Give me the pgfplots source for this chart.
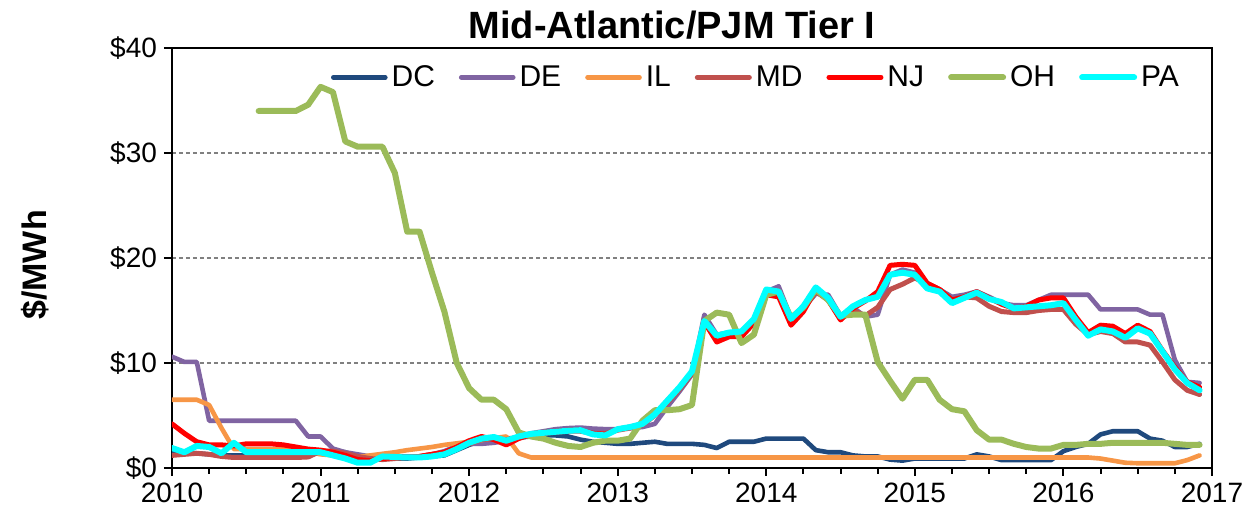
\documentclass[border=0pt]{standalone}
\usepackage{pgfplots}
\pgfplotsset{compat=1.18}
\usepackage{pgfplotstable}
\usepackage{fontspec}
\setmainfont{Liberation Sans}
\definecolor{cDC}{HTML}{1F497D}
\definecolor{cDE}{HTML}{8064A2}
\definecolor{cIL}{HTML}{F79646}
\definecolor{cMD}{HTML}{C0504D}
\definecolor{cNJ}{HTML}{FF0000}
\definecolor{cOH}{HTML}{9BBB59}
\definecolor{cPA}{HTML}{00FFFF}
\pgfplotstableread{
m DC DE IL MD NJ OH PA
0 1.5 10.6 6.5 1.2 4.2 nan 1.9
1 1.5 10.1 6.5 1.3 3.3 nan 1.5
2 1.4 10.1 6.5 1.4 2.5 nan 2.1
3 1.3 4.5 6.0 1.3 2.2 nan 2.0
4 1.2 4.5 3.8 1.1 2.2 nan 1.4
5 1.2 4.5 1.8 1.0 2.1 nan 2.4
6 1.2 4.5 1.8 1.0 2.3 nan 1.5
7 1.2 4.5 1.8 1.0 2.3 34.0 1.5
8 1.2 4.5 1.8 1.0 2.3 34.0 1.5
9 1.2 4.5 1.8 1.0 2.2 34.0 1.5
10 1.3 4.5 1.7 1.0 2.0 34.0 1.5
11 1.4 3.0 1.5 1.05 1.8 34.6 1.5
12 1.5 3.0 1.3 1.6 1.7 36.3 1.5
13 1.6 1.85 1.2 1.6 1.5 35.8 1.2
14 1.5 1.5 1.1 1.4 1.2 31.1 0.9
15 0.9 1.3 1.05 1.1 0.8 30.6 0.5
16 0.8 1.1 1.2 0.9 0.7 30.6 0.5
17 0.9 1.1 1.35 0.8 0.9 30.6 1.1
18 0.9 1.1 1.5 0.9 1.0 28.1 1.05
19 0.9 1.1 1.7 1.0 1.0 22.5 1.0
20 1.0 1.1 1.85 1.1 1.1 22.5 1.0
21 1.1 1.3 2.0 1.3 1.3 18.6 1.1
22 1.2 1.6 2.2 1.5 1.5 14.9 1.3
23 1.7 2.1 2.35 1.9 2.0 10.0 1.8
24 2.2 2.3 2.5 2.3 2.6 7.6 2.4
25 2.6 2.3 2.65 2.7 3.0 6.5 2.8
26 2.7 2.4 2.85 2.8 2.7 6.5 2.95
27 2.8 2.6 3.0 2.7 2.2 5.6 2.6
28 2.9 3.0 1.4 2.9 2.8 3.4 3.0
29 3.0 3.3 1.0 3.1 3.2 3.0 3.25
30 3.1 3.5 1.0 3.3 3.4 2.8 3.35
31 3.1 3.7 1.0 3.4 3.5 2.4 3.45
32 3.0 3.8 1.0 3.5 3.6 2.1 3.55
33 2.7 3.85 1.0 3.5 3.6 2.0 3.6
34 2.5 3.75 1.0 3.3 3.3 2.4 3.2
35 2.4 3.7 1.0 3.3 3.2 2.6 3.1
36 2.3 3.7 1.0 3.6 3.7 2.6 3.7
37 2.3 3.8 1.0 3.8 3.9 2.8 3.9
38 2.4 3.9 1.0 4.1 4.2 4.5 4.2
39 2.5 4.2 1.0 5.0 5.1 5.5 5.1
40 2.3 5.8 1.0 6.2 6.4 5.5 6.4
41 2.3 7.3 1.0 7.5 7.6 5.6 7.7
42 2.3 8.9 1.0 9.0 9.1 6.0 9.2
43 2.2 14.6 1.0 13.9 13.9 14.0 14.0
44 1.9 12.7 1.0 12.5 12.0 14.8 12.6
45 2.5 12.9 1.0 12.8 12.5 14.6 12.9
46 2.5 13.0 1.0 12.9 12.5 11.9 13.0
47 2.5 14.0 1.0 14.0 13.8 12.7 14.2
48 2.8 16.8 1.0 16.6 16.5 16.5 17.0
49 2.8 17.3 1.0 16.6 16.3 16.8 16.8
50 2.8 14.3 1.0 14.0 13.6 14.3 14.2
51 2.8 15.2 1.0 15.2 14.9 15.3 15.4
52 1.7 16.6 1.0 16.8 17.0 17.0 17.2
53 1.5 16.5 1.0 16.0 16.0 16.0 16.2
54 1.5 14.5 1.0 14.2 14.1 14.5 14.4
55 1.2 15.3 1.0 15.0 15.2 14.6 15.4
56 1.1 14.4 1.0 14.5 15.9 14.6 16.0
57 1.1 14.6 1.0 15.3 16.8 10.1 16.3
58 0.8 18.4 1.0 17.0 19.3 8.3 18.4
59 0.7 18.9 1.0 17.5 19.4 6.6 18.6
60 0.9 18.6 1.0 18.1 19.3 8.4 18.4
61 0.9 17.6 1.0 17.5 17.6 8.4 17.1
62 0.9 17.0 1.0 17.0 17.0 6.5 16.8
63 0.9 16.3 1.0 16.0 16.0 5.6 15.7
64 0.9 16.5 1.0 16.3 16.3 5.4 16.2
65 1.3 16.8 1.0 16.2 16.8 3.6 16.7
66 1.1 16.3 1.0 15.4 16.2 2.7 16.1
67 0.75 15.7 1.0 14.9 15.6 2.7 15.8
68 0.75 15.5 1.0 14.8 15.2 2.3 15.2
69 0.75 15.5 1.0 14.8 15.4 2.0 15.3
70 0.75 16.0 1.0 15.0 16.0 1.85 15.4
71 0.75 16.5 1.0 15.1 16.2 1.85 15.5
72 1.6 16.5 1.0 15.1 16.2 2.2 15.7
73 2.0 16.5 1.0 13.7 14.4 2.2 14.1
74 2.3 16.5 1.0 12.7 12.9 2.3 12.6
75 3.2 15.1 0.9 13.0 13.6 2.3 13.2
76 3.5 15.1 0.7 12.8 13.5 2.4 13.0
77 3.5 15.1 0.5 12.0 12.8 2.4 12.4
78 3.5 15.1 0.45 12.0 13.6 2.4 13.3
79 2.8 14.6 0.45 11.7 13.0 2.4 12.8
80 2.6 14.6 0.45 10.1 11.2 2.4 11.1
81 2.0 10.3 0.45 8.4 9.6 2.3 9.4
82 2.0 8.2 0.75 7.4 8.2 2.2 8.1
83 2.3 8.1 1.2 7.0 7.7 2.2 7.4
}\data
\begin{document}
\begin{tikzpicture}
\useasboundingbox (-86pt,-22.5pt) rectangle (536pt,234pt);
\begin{axis}[
  at={(0pt,0pt)}, anchor=south west,
  scale only axis, width=520pt, height=210pt,
  xmin=0, xmax=84, ymin=0, ymax=40,
  xtick={0,12,24,36,48,60,72,84},
  xticklabels={2010,2011,2012,2013,2014,2015,2016,2017},
  minor xtick={3,6,9,15,18,21,27,30,33,39,42,45,51,54,57,63,66,69,75,78,81},
  ytick={0,10,20,30,40},
  yticklabels={\$0,\$10,\$20,\$30,\$40},
  tick align=outside, tick pos=left,
  major tick length=4pt, minor tick length=3pt,
  every tick/.style={black, line width=1pt},
  axis line style={line width=1.2pt},
  ymajorgrids, grid style={dash pattern=on 2pt off 1.5pt, gray, line width=0.6pt},
  tick label style={font=\fontsize{14}{16}\selectfont},
  legend columns=7,
  legend style={at={(0.5625,0.93)}, anchor=center, draw=none, fill=none,
    font=\fontsize{15}{18}\selectfont,
    /tikz/every even column/.append style={column sep=10pt}},
  legend image code/.code={\draw[#1] (0pt,0pt) -- (26pt,0pt);},
  every axis plot/.append style={line join=round, line cap=round},
]
\addplot[color=cDC, line width=2.3pt] table[x=m,y=DC]{\data};
\addlegendentry{DC}
\addplot[color=cDE, line width=2.3pt] table[x=m,y=DE]{\data};
\addlegendentry{DE}
\addplot[color=cIL, line width=2.3pt] table[x=m,y=IL]{\data};
\addlegendentry{IL}
\addplot[color=cMD, line width=2.5pt] table[x=m,y=MD]{\data};
\addlegendentry{MD}
\addplot[color=cNJ, line width=2.5pt] table[x=m,y=NJ]{\data};
\addlegendentry{NJ}
\addplot[color=cOH, line width=3pt] table[x=m,y=OH]{\data};
\addlegendentry{OH}
\addplot[color=cPA, line width=3pt] table[x=m,y=PA]{\data};
\addlegendentry{PA}
\end{axis}
\node[font=\bfseries\fontsize{19}{22}\selectfont] at (250pt,221.5pt) {Mid-Atlantic/PJM Tier I};
\node[rotate=90, font=\bfseries\fontsize{17}{20}\selectfont] at (-68.5pt,101.5pt) {\$/MWh};
\end{tikzpicture}
\end{document}
